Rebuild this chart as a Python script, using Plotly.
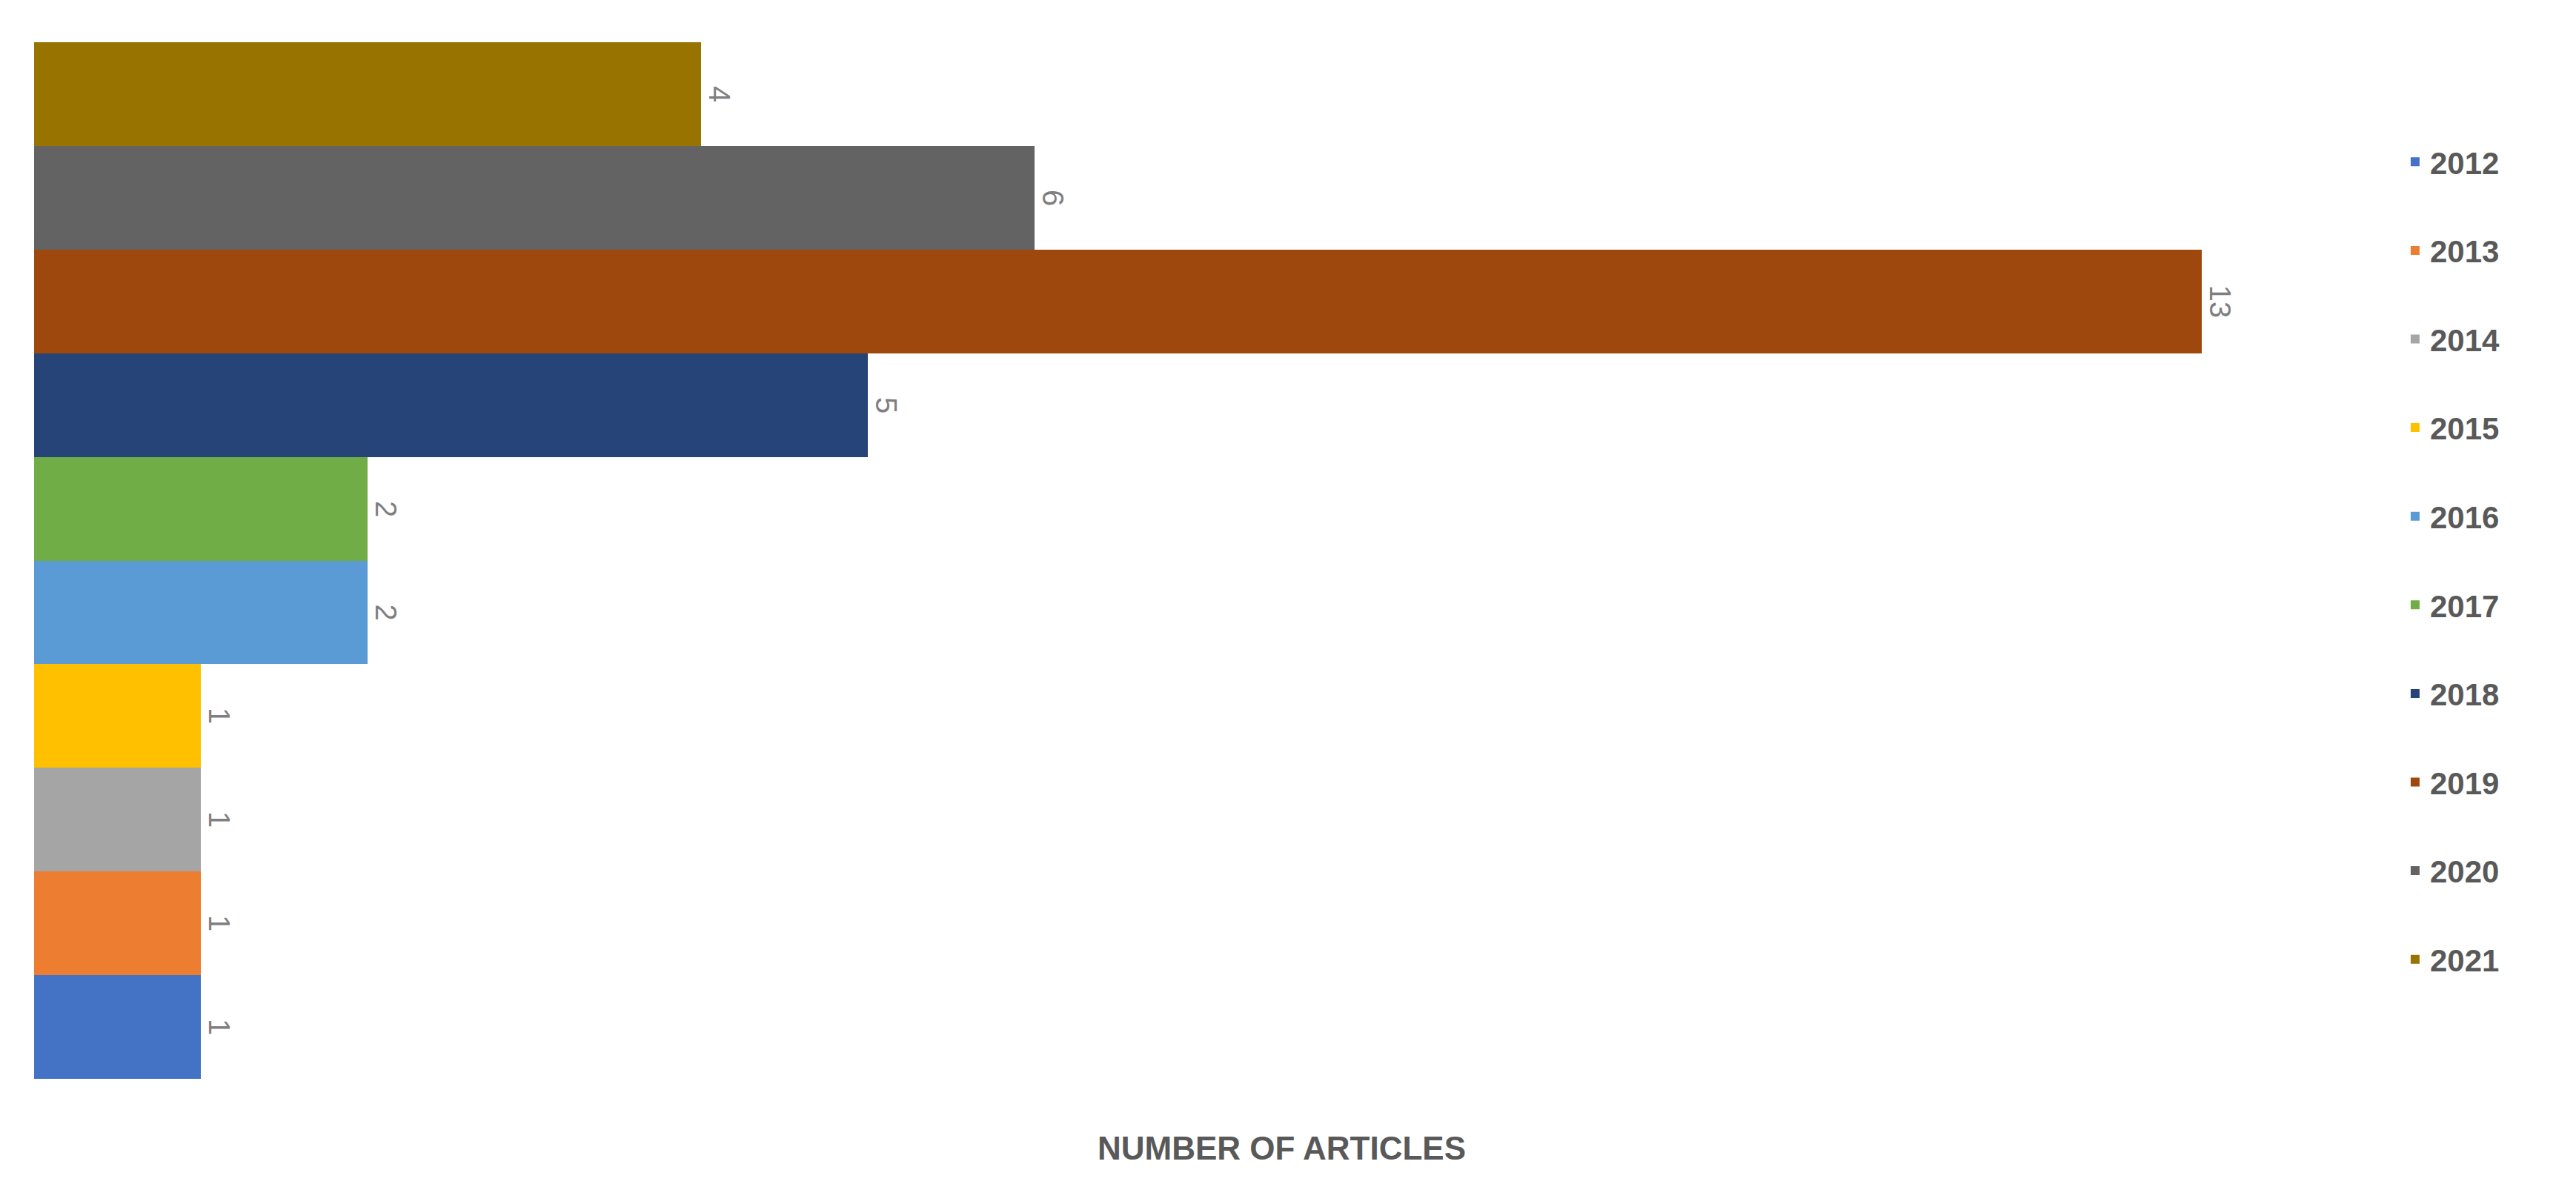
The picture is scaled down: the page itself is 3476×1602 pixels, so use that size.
import plotly.graph_objects as go

years = ["2012","2013","2014","2015","2016","2017","2018","2019","2020","2021"]
articles = [1,1,1,1,2,2,5,13,6,4]
colors = ["#4472C4","#ED7D31","#A5A5A5","#FFC000","#5B9BD5","#70AD47","#264478","#9E480E","#636363","#997300"]

fig = go.Figure()
for y, v, c in zip(years, articles, colors):
    fig.add_trace(go.Bar(
        y=[y], x=[v], orientation="h", name=y, legendgroup=y,
        marker=dict(color=c, line=dict(width=0)),
        text=[str(v)], textposition="outside", textangle=90,
        textfont=dict(family="Liberation Sans", size=40, color="#7F7F7F"),
        cliponaxis=False,
    ))

fig.update_layout(
    width=3476, height=1602,
    paper_bgcolor="white", plot_bgcolor="white",
    margin=dict(l=38, r=326, t=49, b=154),
    barmode="overlay", bargap=0,
    xaxis=dict(visible=False, range=[0, 13.83]),
    yaxis=dict(visible=False, type="category", categoryorder="array", categoryarray=years),
    legend=dict(x=1.026, xanchor="left", y=0.5, yanchor="middle",
                traceorder="reversed+grouped", tracegroupgap=62,
                font=dict(family="Liberation Sans", size=42, color="#595959", weight="bold")),
    annotations=[dict(text="<b>NUMBER OF ARTICLES</b>", xref="paper", yref="paper",
                      x=0.541, y=-0.067, xanchor="center", yanchor="middle", showarrow=False,
                      font=dict(family="Liberation Sans", size=44, color="#595959"))],
)
fig.write_html("out.html")
